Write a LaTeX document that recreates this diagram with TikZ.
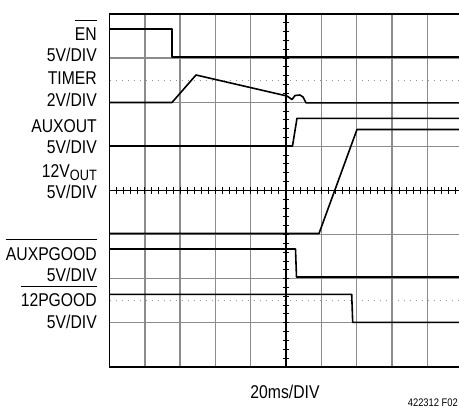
\documentclass[tikz,border=0pt]{standalone}
\usepackage{fontspec}
\newfontfamily\scopefont{Liberation Sans}[FakeStretch=0.85]
\definecolor{gridgrey}{RGB}{140, 140, 140}
\definecolor{dotgrey}{RGB}{150, 150, 150}

\begin{document}
\begin{tikzpicture}
  [
    x=1pt, y=-1pt,
    divline/.style={gridgrey, line width=1.4pt},
    border/.style={black, line width=1.6pt},
    centre/.style={black, line width=1.1pt},
    minor/.style={black, line width=0.9pt},
    ground/.style={dotgrey, line width=1pt, dash pattern=on 1.2pt off 4.8pt},
    sig/.style={black, line width=1.6pt, line join=round},
    chname/.style={anchor=base east, inner sep=0pt, font=\scopefont\fontsize{18.5}{20}\selectfont},
    bar/.style={black, line width=1.2pt}
  ]
  \useasboundingbox (0, 0) rectangle (459, 407);
  \clip (0, 0) rectangle (459, 407);

  % graticule
  \foreach \i in {1,...,9}
    \draw[divline] ({109.5+35.3*\i}, 14) -- ({109.5+35.3*\i}, 366.8);
  \foreach \j in {1,...,7}
    \draw[divline] (109.5, {14+44.1*\j}) -- (462, {14+44.1*\j});

  \draw[ground] (109.5, 80.7) -- (462, 80.7);
  \draw[ground] (109.5, 300.7) -- (462, 300.7);

  \draw[centre] (286, 14) -- (286, 366.8);
  \draw[centre] (109.5, 190.4) -- (462, 190.4);
  \foreach \k in {1,...,49}
    \draw[minor] ({109.5+7.06*\k}, 187.2) -- ({109.5+7.06*\k}, 193.6);
  \foreach \k in {1,...,39}
    \draw[minor] (282.8, {14+8.82*\k}) -- (289.2, {14+8.82*\k});

  \draw[border] (462, 14) -- (109.5, 14) -- (109.5, 366.8) -- (462, 366.8);

  % traces
  \draw[sig] (109.5, 29) -- (172, 29) -- (172, 57) -- (462, 57);
  \draw[sig] (109.5, 102.5) -- (172, 102.5) -- (196, 75) -- (287, 96)
    -- (292, 99.5) -- (295, 95.5) -- (300, 95) -- (303, 97) -- (306, 102.8) -- (462, 102.8);
  \draw[sig] (109.5, 146) -- (292.5, 146) -- (297, 118.3) -- (462, 118.3);
  \draw[sig] (109.5, 233.5) -- (319, 233.5) -- (357, 129.5) -- (462, 129.5);
  \draw[sig] (109.5, 249) -- (295.5, 249) -- (296.5, 277) -- (462, 277);
  \draw[sig] (109.5, 294.3) -- (351.7, 294.3) -- (352.7, 322.3) -- (462, 322.3);

  % channel names
  \node[chname] (en) at (97, 40.7) {EN};
  \draw[bar] ([yshift=7pt]en.north west) -- ([yshift=7pt]en.north east);
  \node[chname] (enscale) at (97, 61.7) {5V/DIV};
  \node[chname] (timer) at (97, 84) {TIMER};
  \node[chname] (timerscale) at (97, 106.5) {2V/DIV};
  \node[chname] (auxout) at (97, 132.5) {AUXOUT};
  \node[chname] (auxoutscale) at (97, 153) {5V/DIV};
  \node[chname] (vout) at (97, 177) {12V\raisebox{-3pt}{\fontsize{15}{15}\selectfont OUT}};
  \node[chname] (voutscale) at (97, 198) {5V/DIV};
  \node[chname] (auxpg) at (97, 260.5) {AUXPGOOD};
  \draw[bar] ([yshift=7.5pt]auxpg.north west) -- ([yshift=7.5pt]auxpg.north east);
  \node[chname] (auxpgscale) at (97, 281.5) {5V/DIV};
  \node[chname] (pg) at (97, 306.5) {12PGOOD};
  \draw[bar] ([yshift=7pt]pg.north west) -- ([yshift=7pt]pg.north east);
  \node[chname] (pgscale) at (97, 328) {5V/DIV};

  \node[chname, anchor=base] (timebase) at (285, 398) {20ms/DIV};
  \node[chname, font=\scopefont\fontsize{11}{12}\selectfont] (figno) at (458, 406) {422312 F02};

\end{tikzpicture}
\end{document}
